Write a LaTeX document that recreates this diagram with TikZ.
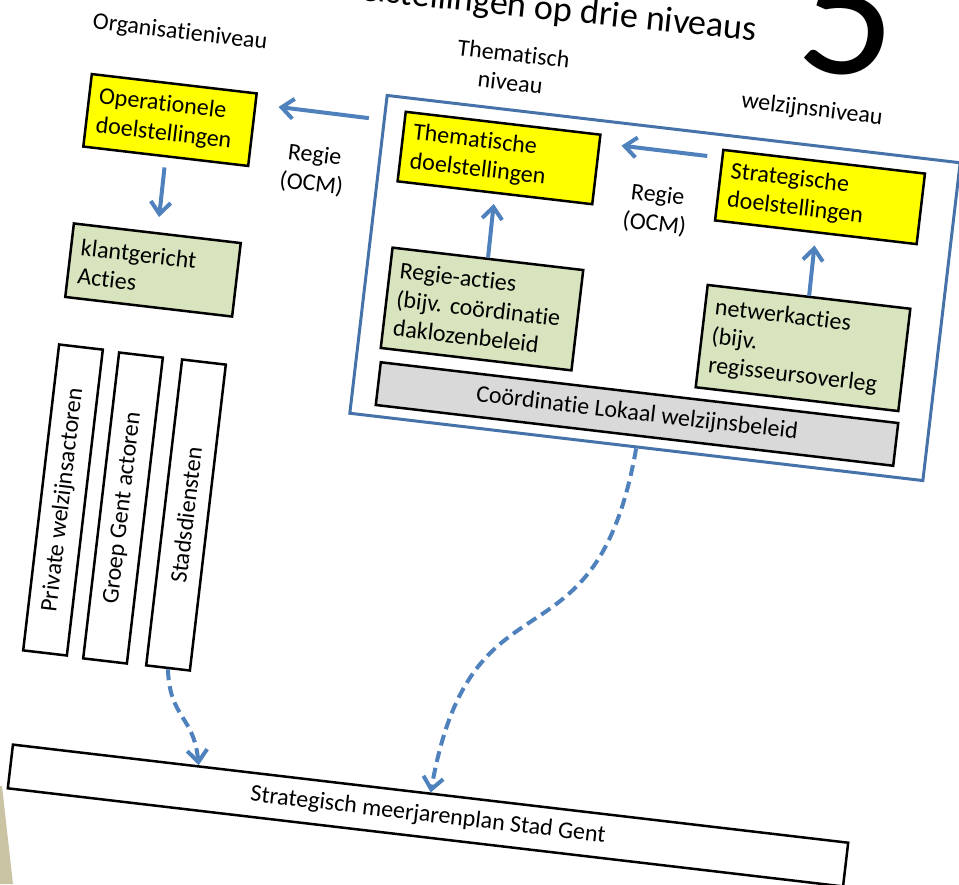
\documentclass[tikz,border=0pt]{standalone}
\usepackage{fontspec}
\setmainfont{Carlito}[Ligatures=NoCommon]
\usetikzlibrary{arrows.meta,calc}
\definecolor{goalyellow}{HTML}{FFFF00}
\definecolor{actiongreen}{HTML}{D7E4BD}
\definecolor{basegray}{HTML}{D9D9D9}
\definecolor{frameblue}{HTML}{4672AA}
\definecolor{arrowblue}{HTML}{4F81BD}
\definecolor{slidebg}{HTML}{CBC4A4}
\begin{document}
\begin{tikzpicture}[x=1pt, y=-1pt,
  font=\fontsize{24}{29}\selectfont,
  box/.style={draw=black, line width=2.5pt, rotate=\tilt},
  goalbox/.style={box, fill=goalyellow, align=left, inner xsep=10pt, inner ysep=4pt},
  actbox/.style={goalbox, fill=actiongreen},
  stripbox/.style={box, fill=white, rotate=90, minimum width=308pt, minimum height=44pt, inner sep=0pt},
  lvltext/.style={rotate=\tilt, align=center, inner sep=0pt},
  flow/.style={draw=arrowblue, line width=4pt, -{Straight Barb[length=12pt,width=20pt]}},
  dashflow/.style={flow, dash pattern=on 11pt off 6pt}]
% Set the tilt of the slide
\def\tilt{-6.7}

% Page size and clipping
\useasboundingbox (0,0) rectangle (959,884);
\clip (0,0) rectangle (959,884);
\fill[slidebg] (0,786) -- (2,786) -- (13,884) -- (0,884) -- cycle;

% Title and slide number
\node[anchor=base east, rotate=-5.9, inner sep=0pt, font=\fontsize{36}{44}\selectfont] (title) at (756,41) {Doelstellingen op drie niveaus};
\node[anchor=base, rotate=\tilt, inner sep=0pt, font=\fontsize{190}{190}\selectfont] (slidenr) at (842,74) {5};

% Level names
\node[lvltext] (orglevel) at (180,33) {Organisatieniveau};
\node[lvltext] (themlevel) at (512,68) {Thematisch\\niveau};
\node[lvltext] (welzlevel) at (812,110) {welzijnsniveau};

% Frame round the thematic and welfare level
\node[draw=frameblue, line width=3pt, rotate=\tilt, minimum width=577pt, minimum height=320pt] (frame) at (655,288) {};

% Boxes
\node[goalbox, text width=146pt, minimum height=73pt] (oper) at (170,120) {Operationele\\doelstellingen};
\node[actbox, text width=148pt, minimum height=74pt] (klant) at (153,270) {klantgericht\\Acties};
\node[goalbox, text width=176pt, minimum height=70pt] (them) at (499,158) {Thematische\\doelstellingen};
\node[actbox, text width=172pt, minimum height=101pt] (regie) at (482,309) {Regie-acties\\(bijv.\ coördinatie\\daklozenbeleid};
\node[goalbox, text width=183pt, minimum height=71pt] (strat) at (820,197) {Strategische\\doelstellingen};
\node[actbox, text width=184pt, minimum height=103pt] (netw) at (803,348) {netwerkacties\\(bijv.\\regisseursoverleg};
\node[box, fill=basegray, minimum width=521pt, minimum height=43pt] (coord) at (637,414) {Coördinatie Lokaal welzijnsbeleid};

% Actors
\node[stripbox] (priv) at (63,500) {Private welzijnsactoren};
\node[stripbox] (groep) at (123,508) {Groep Gent actoren};
\node[stripbox] (stads) at (186,515) {Stadsdiensten};

\node[box, minimum width=841pt, minimum height=44pt] (plan) at (428,815.5) {Strategisch meerjarenplan Stad Gent};

% Regie labels
\node[lvltext] (regieleft) at (313,170) {Regie\\(OCM)};
\node[lvltext] (regieright) at (656,210) {Regie\\(OCM)};

% Arrows
\draw[flow, shorten <=10pt, shorten >=15pt] (oper.south) -- (klant.north);
\draw[flow, shorten >=10pt] (regie.north) -- (them.south);
\draw[flow, shorten >=12pt] (netw.north) -- (strat.south);
\draw[flow, shorten <=14pt, shorten >=21pt] (strat.165) -- (them.15);
\draw[flow, shorten <=14pt, shorten >=22pt] (frame.155) -- (oper.17);
\draw[dashflow] (stads.west) .. controls +(2,50) and +(-5,-50) .. ($(plan.north west)!0.223!(plan.north east)$);
\draw[dashflow] (frame.south) .. controls +(-41,233) and +(41,-233) .. (plan.north);
\end{tikzpicture}
\end{document}
